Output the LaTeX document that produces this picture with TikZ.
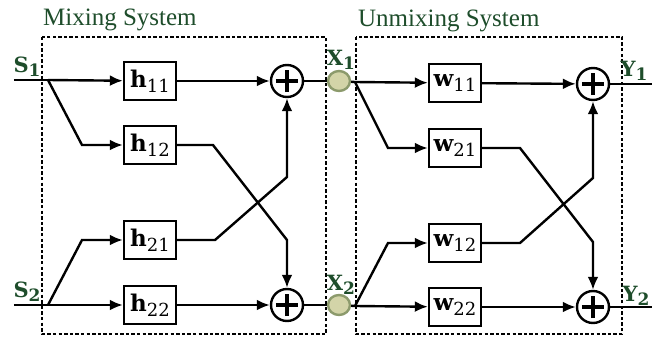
\documentclass[tikz,border=0pt]{standalone}
\usepackage{fontspec}
\setmainfont{DejaVu Serif}
\newfontfamily\titlefont{Liberation Serif}
\usetikzlibrary{arrows.meta,shapes.geometric}
\definecolor{labelgreen}{HTML}{1E4D2B}
\definecolor{tapfill}{HTML}{D3D4A8}
\definecolor{tapline}{HTML}{8C9A6C}
\newcommand{\gainlab}[2]{{\bfseries #1}\raisebox{-0.45ex}{\fontsize{9}{10}\selectfont #2}}
\newcommand{\siglab}[2]{#1\raisebox{-0.4ex}{\fontsize{8.5}{9}\selectfont #2}}
\tikzset{
  gain/.style={draw, line width=1.2pt, minimum width=26pt, minimum height=19pt, inner sep=0pt, font=\fontsize{11.5}{13}\selectfont},
  adder/.style={draw, circle, line width=1.2pt, minimum size=16pt, inner sep=0pt,
    path picture={\draw[line width=1.6pt] ([xshift=-5.5pt]path picture bounding box.center) -- ([xshift=5.5pt]path picture bounding box.center)
      ([yshift=-5.5pt]path picture bounding box.center) -- ([yshift=5.5pt]path picture bounding box.center);}},
  tap/.style={draw=tapline, fill=tapfill, ellipse, minimum width=11pt, minimum height=10pt, inner sep=0pt},
  sig/.style={text=labelgreen, font=\fontsize{10.5}{12}\selectfont\bfseries, inner sep=0pt},
  title/.style={text=labelgreen, font=\titlefont\fontsize{12.5}{14}\selectfont, anchor=west, inner sep=0pt},
  frame/.style={line width=1.1pt, dash pattern=on 1.7pt off 1.1pt},
}
\begin{document}
\begin{tikzpicture}[x=0.5pt, y=-0.5pt, line width=1.2pt, >={Latex[length=6.5pt,width=5.5pt]}]
  \useasboundingbox (0,0) rectangle (661,338);
  % mixing part
  \draw[frame] (42,37) rectangle (326,334);
  \node[title] (mixtitle) at (42,20) {Mixing System};
  \coordinate (s1in) at (14,80);
  \coordinate (s2in) at (14,305);
  \node[sig] (s1) at (27,67) {\siglab{S}{1}};
  \node[sig] (s2) at (27,292) {\siglab{S}{2}};
  \coordinate (b1) at (48,80);
  \coordinate (k1) at (82,145);
  \coordinate (b2) at (48,305);
  \coordinate (k2) at (82,240);

  \node[gain] (h11) at (150,81) {\gainlab{h}{11}};
  \node[gain] (h12) at (150,145) {\gainlab{h}{12}};
  \node[gain] (h21) at (150,240) {\gainlab{h}{21}};
  \node[gain] (h22) at (150,305) {\gainlab{h}{22}};

  \node[adder] (sum1) at (287,81) {};
  \node[adder] (sum2) at (287,305) {};

  \coordinate (c12a) at (213,145);
  \coordinate (c12b) at (287,240);
  \coordinate (c21a) at (215,240);
  \coordinate (c21b) at (287,177);

  \node[tap] (x1) at (339,81) {};
  \node[tap] (x2) at (339,305) {};
  \node[sig] (x1lab) at (341,60) {\siglab{X}{1}};
  \node[sig] (x2lab) at (341,285) {\siglab{X}{2}};

  \draw (s1in) -- (b1);
  \draw (s2in) -- (b2);
  \draw[->] (b1) -- (h11);
  \draw[->] (b1) -- (k1) -- (h12);
  \draw[->] (b2) -- (h22);
  \draw[->] (b2) -- (k2) -- (h21);
  \draw[->] (h11) -- (sum1);
  \draw[->] (h22) -- (sum2);
  \draw[->] (h12) -- (c12a) -- (c12b) -- (sum2);
  \draw[->] (h21) -- (c21a) -- (c21b) -- (sum1);
  \draw (sum1) -- (x1);
  \draw (sum2) -- (x2);

  % unmixing part
  \draw[frame] (356,37) rectangle (622,334);
  \node[title] (unmixtitle) at (357,21) {Unmixing System};
  \coordinate (b3) at (355,82);
  \coordinate (k3) at (388,148);
  \coordinate (b4) at (355,306);
  \coordinate (k4) at (388,243);

  \node[gain] (w11) at (455,83) {\gainlab{w}{11}};
  \node[gain] (w21) at (455,148) {\gainlab{w}{21}};
  \node[gain] (w12) at (455,243) {\gainlab{w}{12}};
  \node[gain] (w22) at (455,307) {\gainlab{w}{22}};

  \node[adder] (sum3) at (593,84) {};
  \node[adder] (sum4) at (593,307) {};

  \coordinate (c21c) at (520,148);
  \coordinate (c21d) at (593,242);
  \coordinate (c12c) at (520,243);
  \coordinate (c12d) at (593,178);

  \coordinate (y1out) at (652,84);
  \coordinate (y2out) at (652,307);
  \node[sig] (y1) at (634,71) {\siglab{Y}{1}};
  \node[sig] (y2) at (636,296) {\siglab{Y}{2}};

  \draw (x1) -- (b3);
  \draw (x2) -- (b4);
  \draw[->] (b3) -- (w11);
  \draw[->] (b3) -- (k3) -- (w21);
  \draw[->] (b4) -- (w22);
  \draw[->] (b4) -- (k4) -- (w12);
  \draw[->] (w11) -- (sum3);
  \draw[->] (w22) -- (sum4);
  \draw[->] (w21) -- (c21c) -- (c21d) -- (sum4);
  \draw[->] (w12) -- (c12c) -- (c12d) -- (sum3);
  \draw (sum3) -- (y1out);
  \draw (sum4) -- (y2out);
\end{tikzpicture}
\end{document}
